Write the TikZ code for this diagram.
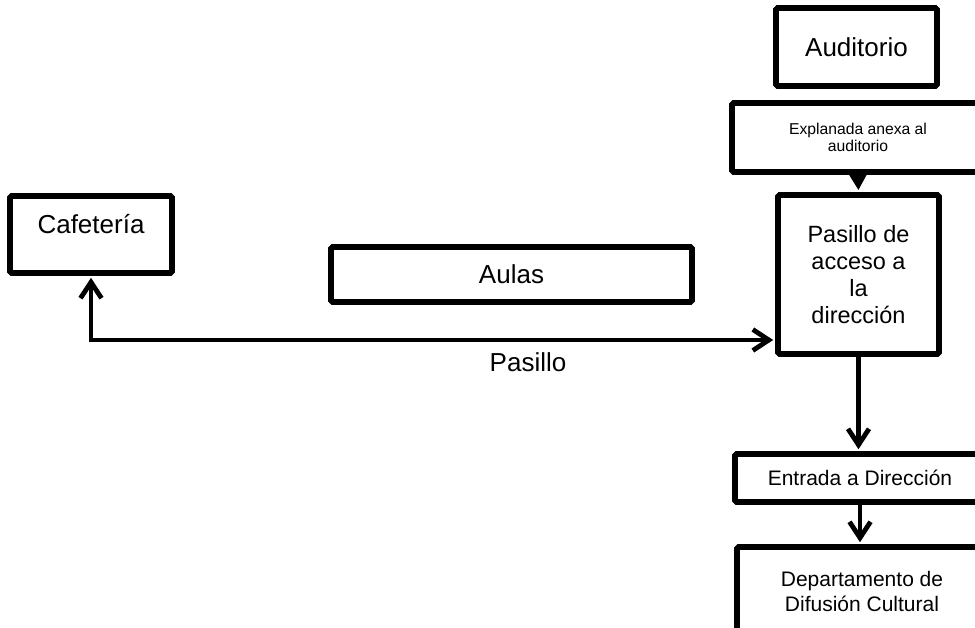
\documentclass[tikz,border=0pt]{standalone}
\usepackage{fontspec}
\setmainfont{Liberation Sans}
\usetikzlibrary{arrows.meta}

\newcommand{\sizeA}{\fontsize{26}{30}\selectfont}
\newcommand{\sizeB}{\fontsize{23.5}{26.8}\selectfont}
\newcommand{\sizeC}{\fontsize{21}{25}\selectfont}
\newcommand{\sizeD}{\fontsize{15.7}{17.6}\selectfont}

\tikzset{
	box/.style={draw, line width=5.6pt, rounded corners=1.5pt, fill=white, align=center, inner sep=0pt},
	conn/.style={line width=4.8pt, line cap=round},
	barb/.tip={Straight Barb[length=16pt,width=21pt]},
}

\begin{document}
\begin{tikzpicture}[x=1pt,y=-1pt]

	\useasboundingbox (0,0) rectangle (975,628);
	\clip (0,0) rectangle (975,628);

	\node[box, minimum width=161pt, minimum height=78pt, font=\sizeA] (aud) at (856.5,47) {Auditorio};
	\node[box, minimum width=252pt, minimum height=69pt, font=\sizeD] (expl) at (858,137.5) {Explanada anexa al\\auditorio};
	\node[box, minimum width=161pt, minimum height=159pt, font=\sizeB] (pac) at (858.5,274.5) {Pasillo de\\acceso a\\la\\direcci\'on};
	\node[box, minimum width=162pt, text height=38pt, text depth=39pt, font=\sizeA] (caf) at (91,234.5) {Cafeter\'ia};
	\node[box, minimum width=361pt, minimum height=55pt, font=\sizeA] (aulas) at (511.5,274.5) {Aulas};
	\node[box, minimum width=250pt, minimum height=48pt, font=\sizeC] (entr) at (860,478) {Entrada a Direcci\'on};
	\node[box, minimum width=250pt, minimum height=88pt, font=\sizeC] (dept) at (862,591) {Departamento de\\Difusi\'on Cultural};
	\node[font=\sizeA] (pas) at (528,362) {Pasillo};

	\coordinate (corner) at (caf.south |- 0,340);

	\draw[conn, barb-barb, shorten <=2pt, shorten >=2pt] (caf.south) -- (corner) -- (corner -| pac.west);
	\draw[conn, -{Triangle[length=16pt,width=17pt]}, shorten >=2pt] (expl.south) -- (pac.north);
	\draw[conn, -barb, shorten >=2pt] (pac.south) -- (pac.south |- entr.north);
	\draw[conn, -barb, shorten >=2pt] (entr.south) -- (entr.south |- dept.north);

\end{tikzpicture}
\end{document}
